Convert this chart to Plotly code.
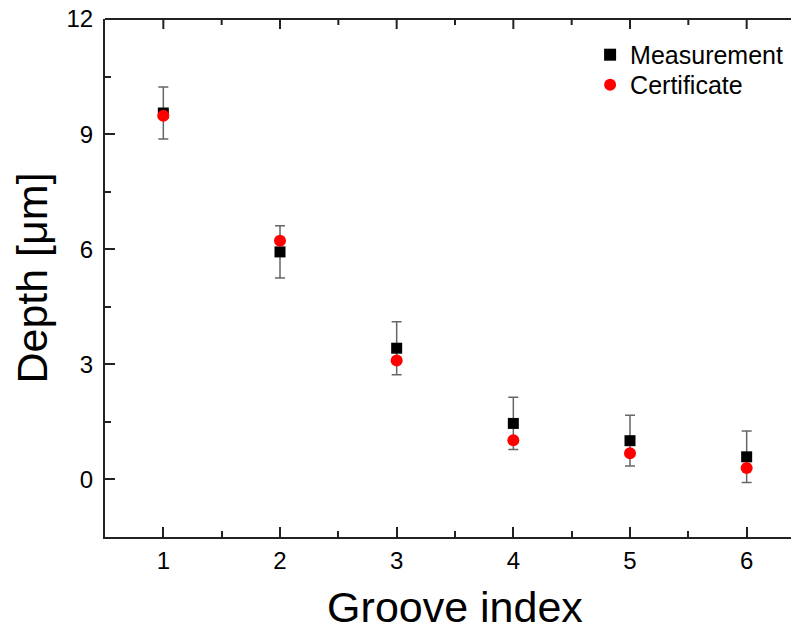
import plotly.graph_objects as go

groove = [1, 2, 3, 4, 5, 6]
measurement = [9.55, 5.93, 3.42, 1.46, 1.01, 0.59]
meas_err = [0.68, 0.68, 0.69, 0.68, 0.66, 0.67]
certificate = [9.48, 6.22, 3.10, 1.02, 0.68, 0.30]

x_minor = [1.5, 2.5, 3.5, 4.5, 5.5]
y_major = [0, 3, 6, 9]
y_minor = [1.5, 4.5, 7.5, 10.5]

FONT = "Liberation Sans, Arial, sans-serif"
LC = "#222222"
XR = [0.5, 6.5]
YR = [-1.5, 12]

fig = go.Figure()
fig.add_trace(go.Scatter(
    x=groove, y=measurement, mode="markers", name="Measurement",
    marker=dict(symbol="square", size=11, color="black"),
    error_y=dict(type="data", array=meas_err, visible=True, color="#666666", thickness=1.5, width=5),
    legend="legend",
))
fig.add_trace(go.Scatter(
    x=groove, y=certificate, mode="markers", name="Certificate",
    marker=dict(symbol="circle", size=12, color="red"),
    legend="legend2",
))

base = dict(ticks="inside", tickwidth=2, tickcolor=LC, automargin=False,
            showgrid=False, zeroline=False, ticklabeloverflow="allow")

# frame: top line plus mirrored inward ticks on top and right
shapes = [dict(type="line", xref="paper", yref="paper", x0=0, x1=1, y0=1, y1=1,
               line=dict(color=LC, width=2), layer="above"),
          dict(type="line", xref="paper", yref="paper", x0=1, x1=1, y0=0, y1=1,
               line=dict(color=LC, width=2), layer="above")]
for xv, ln in [(v, 10) for v in groove] + [(v, 6) for v in x_minor]:
    shapes.append(dict(type="line", xref="x", yref="paper", ysizemode="pixel", yanchor=1,
                       x0=xv, x1=xv, y0=0, y1=-ln, line=dict(color=LC, width=2)))
for yv, ln in [(v, 10) for v in y_major] + [(v, 6) for v in y_minor]:
    shapes.append(dict(type="line", xref="paper", yref="y", xsizemode="pixel", xanchor=1,
                       y0=yv, y1=yv, x0=0, x1=-ln, line=dict(color=LC, width=2)))

fig.update_layout(
    width=799, height=631,
    margin=dict(l=97, r=2, t=11, b=102),
    paper_bgcolor="white", plot_bgcolor="white",
    font=dict(family=FONT, color="black"),
    xaxis=dict(
        range=XR, dtick=1, tick0=0, showline=True, linecolor=LC, linewidth=2, ticklen=10,
        minor=dict(ticks="inside", ticklen=6, dtick=0.5, tick0=0, tickwidth=2, tickcolor=LC),
        title=dict(text="Groove index", font=dict(family=FONT, size=43), standoff=19),
        tickfont=dict(family=FONT, size=24, color="black"),
        ticklabelstandoff=1,
        **base,
    ),
    yaxis=dict(
        range=YR, dtick=3, tick0=0, showline=True, linecolor=LC, linewidth=2, ticklen=10,
        minor=dict(ticks="inside", ticklen=6, dtick=1.5, tick0=0, tickwidth=2, tickcolor=LC),
        title=dict(text="Depth [μm]", font=dict(family=FONT, size=43), standoff=14),
        tickfont=dict(family=FONT, size=24, color="black"),
        ticklabelstandoff=5,
        **base,
    ),
    legend=dict(
        x=0.693, y=0.975, xanchor="left", yanchor="top",
        font=dict(family=FONT, size=25), bgcolor="rgba(0,0,0,0)", itemsizing="constant",
    ),
    legend2=dict(
        x=0.693, y=0.917, xanchor="left", yanchor="top",
        font=dict(family=FONT, size=25), bgcolor="rgba(0,0,0,0)", itemsizing="constant",
    ),
    shapes=shapes,
    showlegend=True,
)

fig.write_html("out.html")
